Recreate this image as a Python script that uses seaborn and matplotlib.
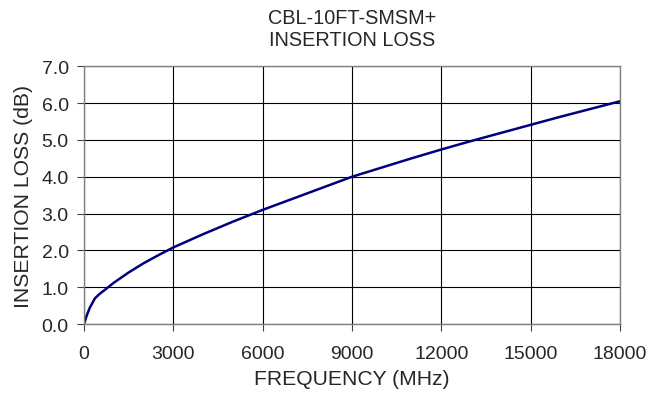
import matplotlib
matplotlib.use("Agg")
import matplotlib.pyplot as plt
import seaborn as sns
import pandas as pd
from matplotlib.ticker import FormatStrFormatter, MultipleLocator

freq_mhz = [0, 100, 200, 370, 500, 1000, 1500, 2000, 2500, 3000, 4000, 5000,
            6000, 7000, 8000, 9000, 10000, 11000, 12000, 13000, 14000, 15000,
            16000, 17000, 18000]
loss_db = [0.0, 0.25, 0.45, 0.70, 0.80, 1.12, 1.40, 1.65, 1.87, 2.08, 2.44, 2.78,
           3.10, 3.40, 3.70, 4.00, 4.25, 4.50, 4.74, 4.97, 5.19, 5.41,
           5.63, 5.84, 6.05]
title_lines = ["CBL-10FT-SMSM+", "INSERTION LOSS"]
x_label = "FREQUENCY (MHz)"
y_label = "INSERTION LOSS (dB)"

df = pd.DataFrame({"freq": freq_mhz, "loss": loss_db})

sns.set_style("white")
plt.rcParams["font.family"] = ["Liberation Sans", "DejaVu Sans"]

fig = plt.figure(figsize=(6.5, 4.02), dpi=100)
ax = fig.add_axes([84/650, 1-325/402, 536/650, (325-67.3)/402])

sns.lineplot(data=df, x="freq", y="loss", ax=ax, color="#000080", linewidth=1.8)

ax.set_xlim(0, 18000)
ax.set_ylim(0, 7)
ax.xaxis.set_major_locator(MultipleLocator(3000))
ax.yaxis.set_major_locator(MultipleLocator(1))
ax.yaxis.set_major_formatter(FormatStrFormatter("%.1f"))
ax.grid(True, color="black", linewidth=0.8)
ax.set_axisbelow(True)
for s in ax.spines.values():
    s.set_color("#808080")
    s.set_linewidth(1.0)
ax.tick_params(axis="both", which="major", direction="out", length=5, width=0.8,
               color="#404040", labelsize=14, bottom=True, left=True)
ax.tick_params(axis="x", pad=10)
ax.tick_params(axis="y", pad=6)
ax.set_xlabel(x_label, fontsize=15.2, labelpad=5)
ax.set_ylabel(y_label, fontsize=15.2, labelpad=6)
fig.text(352/650, 1-29/402, "\n".join(title_lines), ha="center", va="center",
         fontsize=14.3, linespacing=1.2)

fig.savefig("out.png", dpi=100)
